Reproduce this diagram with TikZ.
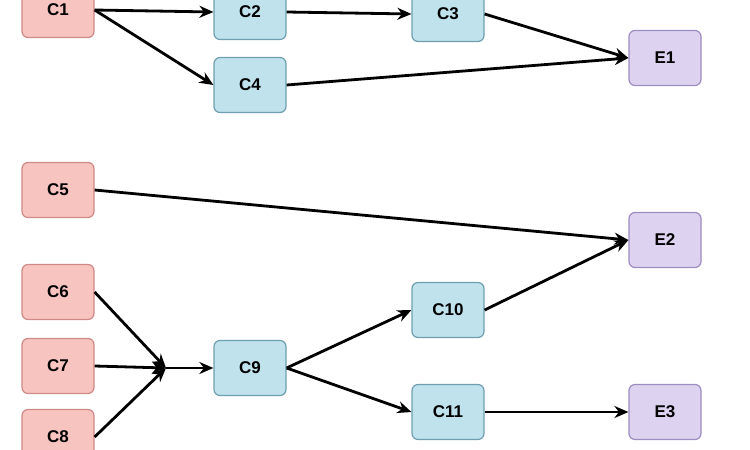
\documentclass[tikz,border=0pt]{standalone}
\usepackage{fontspec}
\setmainfont{Liberation Sans}
\usetikzlibrary{arrows.meta}
\definecolor{rf}{HTML}{F8C4C0}\definecolor{rd}{HTML}{D08A86}
\definecolor{bf}{HTML}{BFE2EC}\definecolor{bd}{HTML}{6F9FB0}
\definecolor{pf}{HTML}{DDD3F0}\definecolor{pd}{HTML}{9C8CC0}
\begin{document}
\begin{tikzpicture}[x=1pt,y=-1pt,
 box/.style={rounded corners=6pt,minimum width=72pt,minimum height=55pt,font=\bfseries\fontsize{17}{20}\selectfont,line width=1.2pt,inner sep=0pt},
 r/.style={box,fill=rf,draw=rd},
 b/.style={box,fill=bf,draw=bd},
 p/.style={box,fill=pf,draw=pd},
 ar/.style={-{Stealth[length=14pt,width=12pt]},line width=2.8pt}]
\useasboundingbox (0,0) rectangle (750,450);
\node[r] (C1) at (58,10) {C1};
\node[b] (C2) at (250,12) {C2};
\node[b] (C3) at (448,14) {C3};
\node[b] (C4) at (250,85) {C4};
\node[p] (E1) at (665,58) {E1};
\node[r] (C5) at (58,190) {C5};
\node[p] (E2) at (665,240) {E2};
\node[r] (C6) at (58,292) {C6};
\node[r] (C7) at (58,366) {C7};
\node[r] (C8) at (58,437) {C8};
\node[b] (C9) at (250,368) {C9};
\node[b] (C10) at (448,310) {C10};
\node[b] (C11) at (448,412) {C11};
\node[p] (E3) at (665,412) {E3};
\coordinate (M) at (166,368);
\draw[ar] (C1.east) -- (C2.west);
\draw[ar] (C1.east) -- (C4.west);
\draw[ar] (C2.east) -- (C3.west);
\draw[ar] (C3.east) -- (E1.west);
\draw[ar] (C4.east) -- (E1.west);
\draw[ar] (C5.east) -- (E2.west);
\draw[ar] (C6.east) -- (M);
\draw[ar] (C7.east) -- (M);
\draw[ar] (C8.east) -- (M);
\draw[ar] (M) -- (C9.west);
\draw[ar] (C9.east) -- (C10.west);
\draw[ar] (C9.east) -- (C11.west);
\draw[ar] (C10.east) -- (E2.west);
\draw[ar] (C11.east) -- (E3.west);
\end{tikzpicture}
\end{document}
